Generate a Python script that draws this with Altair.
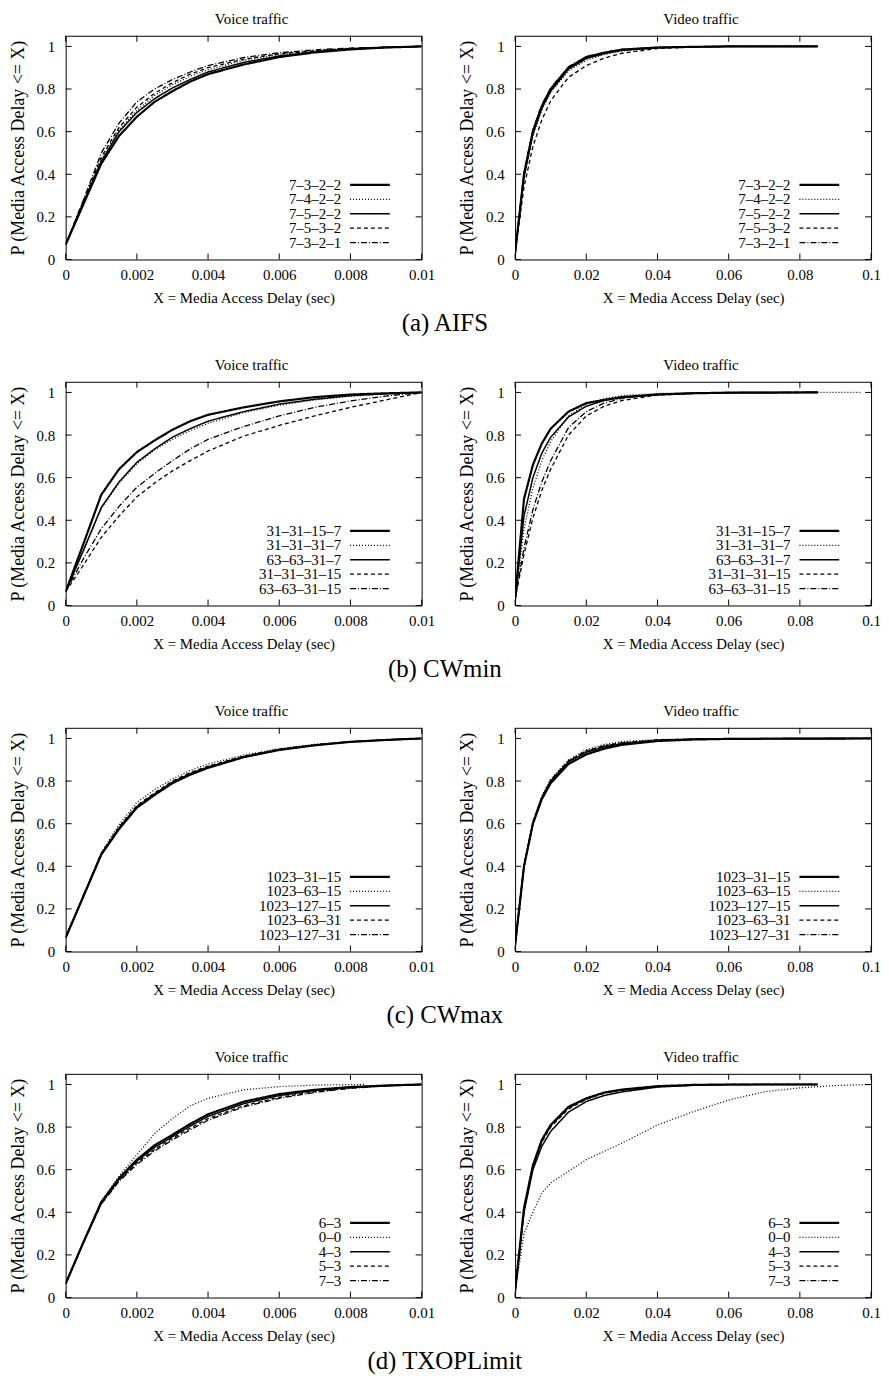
import altair as alt
import pandas as pd

FONT = "Liberation Serif"
W, H = 358, 225
TICK = 6

# ---------------- x sample points ----------------
voice_x = [0, 0.0005, 0.001, 0.0015, 0.002, 0.0025, 0.003, 0.0035, 0.004,
           0.005, 0.006, 0.007, 0.008, 0.009, 0.01]
voice_x_short = [0, 0.0005, 0.001, 0.0015, 0.002, 0.0025, 0.003, 0.0035, 0.004,
                 0.005, 0.006, 0.007, 0.0084]
video_x = [0, 0.0025, 0.005, 0.0075, 0.01, 0.015, 0.02, 0.025, 0.03, 0.04,
           0.05, 0.06, 0.085]
video_x_ext = [0, 0.0025, 0.005, 0.0075, 0.01, 0.015, 0.02, 0.025, 0.03, 0.04,
               0.05, 0.06, 0.097]
video_x_full = [0, 0.0025, 0.005, 0.0075, 0.01, 0.015, 0.02, 0.025, 0.03, 0.04,
                0.05, 0.06, 0.1]
video_x_long = [0, 0.0025, 0.005, 0.0075, 0.01, 0.015, 0.02, 0.03, 0.04, 0.05,
                0.06, 0.07, 0.08, 0.09, 0.1]

voice_ticks = [0, 0.002, 0.004, 0.006, 0.008, 0.01]
video_ticks = [0, 0.02, 0.04, 0.06, 0.08, 0.1]
y_ticks = [0, 0.2, 0.4, 0.6, 0.8, 1]

# ---------------- (a) AIFS ----------------
a_labels = ["7–3–2–2", "7–4–2–2", "7–5–2–2", "7–5–3–2", "7–3–2–1"]
a_voice = [
    [0.07, 0.26, 0.45, 0.58, 0.67, 0.74, 0.79, 0.835, 0.87, 0.915, 0.95, 0.972, 0.986, 0.995, 1.0],
    [0.07, 0.27, 0.47, 0.61, 0.70, 0.77, 0.82, 0.86, 0.89, 0.935, 0.962, 0.978, 0.99, 0.996, 1.0],
    [0.07, 0.265, 0.46, 0.60, 0.69, 0.755, 0.805, 0.845, 0.88, 0.925, 0.955, 0.975, 0.988, 0.995, 1.0],
    [0.07, 0.275, 0.48, 0.62, 0.715, 0.78, 0.83, 0.87, 0.90, 0.94, 0.965, 0.98, 0.99, 0.996, 1.0],
    [0.07, 0.28, 0.50, 0.64, 0.74, 0.80, 0.845, 0.88, 0.91, 0.948, 0.97, 0.984, 0.992, 0.997, 1.0],
]
a_video = [
    [0.03, 0.40, 0.60, 0.72, 0.80, 0.90, 0.95, 0.97, 0.985, 0.995, 0.998, 1.0, 1.0],
    [0.03, 0.38, 0.58, 0.70, 0.785, 0.885, 0.935, 0.962, 0.978, 0.993, 0.998, 1.0, 1.0],
    [0.03, 0.39, 0.59, 0.71, 0.79, 0.893, 0.943, 0.966, 0.982, 0.994, 0.998, 1.0, 1.0],
    [0.03, 0.34, 0.53, 0.655, 0.745, 0.855, 0.91, 0.945, 0.968, 0.99, 0.997, 1.0, 1.0],
    [0.03, 0.41, 0.61, 0.725, 0.805, 0.905, 0.952, 0.972, 0.986, 0.995, 0.998, 1.0, 1.0],
]

# ---------------- (b) CWmin ----------------
b_labels = ["31–31–15–7", "31–31–31–7", "63–63–31–7", "31–31–31–15", "63–63–31–15"]
b_voice = [
    [0.065, 0.29, 0.52, 0.64, 0.72, 0.775, 0.825, 0.865, 0.895, 0.93, 0.958, 0.978, 0.99, 0.996, 1.0],
    [0.065, 0.255, 0.455, 0.575, 0.665, 0.73, 0.78, 0.82, 0.855, 0.905, 0.94, 0.965, 0.982, 0.993, 1.0],
    [0.065, 0.26, 0.46, 0.58, 0.672, 0.735, 0.79, 0.83, 0.865, 0.91, 0.945, 0.968, 0.985, 0.994, 1.0],
    [0.065, 0.19, 0.32, 0.42, 0.51, 0.575, 0.632, 0.68, 0.725, 0.795, 0.845, 0.89, 0.93, 0.965, 1.0],
    [0.065, 0.22, 0.36, 0.465, 0.555, 0.62, 0.68, 0.735, 0.78, 0.84, 0.89, 0.93, 0.96, 0.983, 1.0],
]
b_video = [
    [0.03, 0.50, 0.66, 0.76, 0.83, 0.91, 0.95, 0.965, 0.978, 0.99, 0.996, 0.999, 1.0],
    [0.03, 0.36, 0.55, 0.68, 0.77, 0.89, 0.945, 0.97, 0.985, 0.995, 0.998, 1.0, 1.0],
    [0.03, 0.42, 0.60, 0.715, 0.79, 0.885, 0.935, 0.962, 0.977, 0.99, 0.996, 0.999, 1.0],
    [0.03, 0.24, 0.41, 0.54, 0.64, 0.80, 0.89, 0.935, 0.962, 0.988, 0.996, 0.999, 1.0],
    [0.03, 0.27, 0.45, 0.58, 0.68, 0.835, 0.91, 0.95, 0.972, 0.992, 0.997, 0.999, 1.0],
]

# ---------------- (c) CWmax ----------------
c_labels = ["1023–31–15", "1023–63–15", "1023–127–15", "1023–63–31", "1023–127–31"]
c_voice = [
    [0.065, 0.26, 0.455, 0.575, 0.675, 0.735, 0.79, 0.83, 0.862, 0.912, 0.946, 0.968, 0.984, 0.993, 1.0],
    [0.065, 0.265, 0.465, 0.595, 0.70, 0.76, 0.81, 0.85, 0.88, 0.922, 0.952, 0.972, 0.986, 0.994, 1.0],
    [0.065, 0.26, 0.455, 0.58, 0.68, 0.74, 0.795, 0.835, 0.866, 0.914, 0.947, 0.969, 0.984, 0.993, 1.0],
    [0.065, 0.262, 0.46, 0.585, 0.685, 0.745, 0.80, 0.84, 0.87, 0.917, 0.95, 0.97, 0.985, 0.994, 1.0],
    [0.065, 0.26, 0.455, 0.578, 0.678, 0.738, 0.792, 0.832, 0.864, 0.913, 0.946, 0.968, 0.984, 0.993, 1.0],
]
c_video = [
    [0.03, 0.40, 0.60, 0.715, 0.79, 0.88, 0.925, 0.952, 0.97, 0.988, 0.995, 0.998, 1.0],
    [0.03, 0.41, 0.61, 0.73, 0.81, 0.90, 0.948, 0.972, 0.985, 0.995, 0.998, 1.0, 1.0],
    [0.03, 0.40, 0.60, 0.72, 0.80, 0.89, 0.935, 0.96, 0.975, 0.99, 0.996, 0.999, 1.0],
    [0.03, 0.405, 0.605, 0.725, 0.805, 0.895, 0.942, 0.966, 0.98, 0.993, 0.997, 0.999, 1.0],
    [0.03, 0.40, 0.60, 0.72, 0.80, 0.892, 0.94, 0.965, 0.979, 0.992, 0.997, 0.999, 1.0],
]

# ---------------- (d) TXOPLimit ----------------
d_labels = ["6–3", "0–0", "4–3", "5–3", "7–3"]
d_voice = [
    [0.065, 0.26, 0.448, 0.56, 0.647, 0.715, 0.764, 0.815, 0.86, 0.919, 0.955, 0.975, 0.988, 0.995, 1.0],
    [0.065, 0.26, 0.45, 0.57, 0.67, 0.77, 0.84, 0.90, 0.935, 0.975, 0.99, 0.997, 1.0],
    [0.065, 0.26, 0.445, 0.555, 0.64, 0.705, 0.755, 0.805, 0.85, 0.91, 0.948, 0.972, 0.986, 0.995, 1.0],
    [0.065, 0.26, 0.44, 0.55, 0.632, 0.695, 0.748, 0.795, 0.84, 0.90, 0.94, 0.966, 0.984, 0.994, 1.0],
    [0.065, 0.258, 0.438, 0.545, 0.625, 0.688, 0.74, 0.787, 0.832, 0.895, 0.935, 0.963, 0.982, 0.993, 1.0],
]
d_video = [
    [0.03, 0.42, 0.62, 0.74, 0.81, 0.895, 0.935, 0.962, 0.976, 0.992, 0.998, 1.0, 1.0],
    [0.03, 0.30, 0.40, 0.49, 0.538, 0.592, 0.647, 0.725, 0.81, 0.872, 0.927, 0.966, 0.984, 0.995, 1.0],
    [0.03, 0.40, 0.60, 0.71, 0.78, 0.87, 0.92, 0.948, 0.965, 0.988, 0.996, 0.999, 1.0],
    [0.03, 0.41, 0.61, 0.73, 0.80, 0.885, 0.93, 0.958, 0.972, 0.99, 0.997, 1.0, 1.0],
    [0.03, 0.41, 0.615, 0.735, 0.805, 0.89, 0.932, 0.96, 0.974, 0.991, 0.997, 1.0, 1.0],
]

dash_styles = [[1, 0], [1, 2], [1, 0], [4, 3], [6, 2, 1, 2]]
line_widths = [2.2, 1.3, 1.5, 1.3, 1.3]

X_TITLE = "X = Media Access Delay (sec)"
Y_TITLE = "P (Media Access Delay <= X)"

# legend placement inside each plot (pixels from plot's top-left)
LEG_TEXT_X = 277
LEG_SYM_X0, LEG_SYM_X1 = 286, 326
LEG_Y0, LEG_Y1 = 150, 208


def panel(title, labels, xs_list, series, x_domain, x_ticks):
    rows = []
    for i, (lab, xs, ys) in enumerate(zip(labels, xs_list, series)):
        for xv, yv in zip(xs, ys):
            rows.append({"s": lab, "x": xv, "y": yv, "w": line_widths[i]})
    df = pd.DataFrame(rows)
    xscale = alt.Scale(domain=x_domain, nice=False, zero=False)
    yscale = alt.Scale(domain=[0, 1.05], nice=False, zero=False)
    xaxis = alt.Axis(values=x_ticks, format="~g", title=X_TITLE)
    yaxis = alt.Axis(values=y_ticks, format="~g", title=Y_TITLE)
    dash_enc = alt.StrokeDash("s:N", sort=labels,
                              scale=alt.Scale(domain=labels, range=dash_styles),
                              legend=None)
    width_enc = alt.StrokeWidth("w:Q", scale=None, legend=None)

    lines = alt.Chart(df).mark_line(color="black", clip=True).encode(
        x=alt.X("x:Q", scale=xscale, axis=xaxis, title=X_TITLE),
        y=alt.Y("y:Q", scale=yscale, axis=yaxis, title=Y_TITLE),
        strokeDash=dash_enc,
        strokeWidth=width_enc,
    )
    xt = alt.Chart(pd.DataFrame({"x": x_ticks})).mark_rule(color="black", strokeWidth=1)
    yt = alt.Chart(pd.DataFrame({"y": y_ticks})).mark_rule(color="black", strokeWidth=1)
    xb = xt.encode(x=alt.X("x:Q", scale=xscale, axis=xaxis, title=X_TITLE),
                   y=alt.value(H), y2=alt.value(H - TICK))
    xtp = xt.encode(x=alt.X("x:Q", scale=xscale, axis=xaxis, title=X_TITLE),
                    y=alt.value(0), y2=alt.value(TICK))
    yl = yt.encode(y=alt.Y("y:Q", scale=yscale, axis=yaxis, title=Y_TITLE),
                   x=alt.value(0), x2=alt.value(TICK))
    yr = yt.encode(y=alt.Y("y:Q", scale=yscale, axis=yaxis, title=Y_TITLE),
                   x=alt.value(W), x2=alt.value(W - TICK))
    plot = alt.layer(lines, xb, xtp, yl, yr)

    # key (legend) drawn inside the plot, labels left of the line samples
    leg_df = pd.DataFrame({"s": labels, "w": line_widths})
    leg_y = alt.Y("s:N", axis=None,
                  scale=alt.Scale(type="point", domain=labels, range=[LEG_Y0, LEG_Y1], padding=0))
    leg_text = alt.Chart(leg_df).mark_text(
        align="right", baseline="middle", font=FONT, fontSize=15, color="black"
    ).encode(x=alt.value(LEG_TEXT_X), y=leg_y, text="s:N")
    leg_sym = alt.Chart(leg_df).mark_rule(color="black").encode(
        x=alt.value(LEG_SYM_X0), x2=alt.value(LEG_SYM_X1), y=leg_y,
        strokeDash=dash_enc, strokeWidth=width_enc,
    )
    key = alt.layer(leg_text, leg_sym)

    return alt.layer(plot, key).resolve_scale(y="independent").properties(
        width=W, height=H,
        title=alt.TitleParams(title, font=FONT, fontSize=15, fontWeight="normal",
                              color="black", anchor="middle", dx=8, offset=8),
    )


def row(caption, labels, voice, video, voice_xs, video_xs, video_ticks_):
    left = panel("Voice traffic", labels, voice_xs, voice, [0, 0.01], voice_ticks)
    right = panel("Video traffic", labels, video_xs, video, [0, 0.1], video_ticks_)
    return alt.hconcat(left, right, spacing=22).resolve_scale(
        strokeDash="independent", x="independent", y="independent"
    ).properties(
        title=alt.TitleParams(caption, orient="bottom", anchor="middle", font=FONT,
                              fontSize=25, fontWeight="normal", color="black", offset=5)
    )


row_a = row("(a) AIFS", a_labels, a_voice, a_video, [voice_x] * 5, [video_x] * 5, video_ticks)
row_b = row("(b) CWmin", b_labels, b_voice, b_video, [voice_x] * 5,
            [video_x, video_x_ext, video_x, video_x, video_x], video_ticks)
row_c = row("(c) CWmax", c_labels, c_voice, c_video, [voice_x] * 5, [video_x_full] * 5, video_ticks)
row_d = row("(d) TXOPLimit", d_labels, d_voice, d_video,
            [voice_x, voice_x_short, voice_x, voice_x, voice_x],
            [video_x, video_x_long, video_x, video_x, video_x], video_ticks)

chart = alt.vconcat(row_a, row_b, row_c, row_d, spacing=22).resolve_scale(
    strokeDash="independent", x="independent", y="independent"
).properties(
    padding={"left": 0, "top": 0, "right": 0, "bottom": 0}
).configure_view(
    stroke="black", strokeWidth=1
).configure_axis(
    domain=False, ticks=False, tickSize=0, grid=False, labelFont=FONT, labelFontSize=15,
    labelColor="black", titleFont=FONT, titleFontSize=15, titleFontWeight="normal",
    titleColor="black", labelFlush=False
).configure_axisY(
    titleFontSize=18, labelPadding=11, titlePadding=9
).configure_axisX(
    labelPadding=8, titlePadding=8
).configure_title(
    font=FONT, fontWeight="normal", color="black"
)

chart.save("out.html", embed_options={"renderer": "svg", "actions": False})
